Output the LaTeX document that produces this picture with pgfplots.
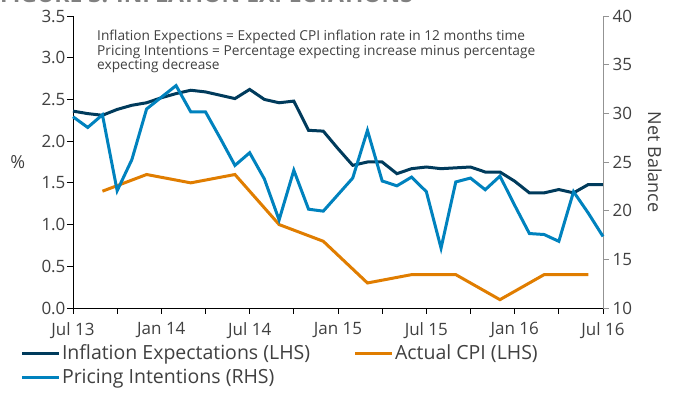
\documentclass[border=0pt]{standalone}
\usepackage{pgfplots}
\pgfplotsset{compat=1.18}
\usepackage{pgfplotstable}
\usepackage{fontspec}
\setmainfont{Open Sans}

\definecolor{navy}{HTML}{003B5C}
\definecolor{cblue}{HTML}{0082BE}
\definecolor{corange}{HTML}{E07D00}
\definecolor{txt}{HTML}{404040}

% months since Jul 13
\pgfplotstableread{
m val
0 2.36
1 2.33
2 2.31
3 2.38
4 2.43
5 2.46
6 2.52
7 2.57
8 2.61
9 2.59
10 2.55
11 2.51
12 2.62
13 2.50
14 2.46
15 2.48
16 2.13
17 2.12
18 1.91
19 1.71
20 1.75
21 1.75
22 1.61
23 1.67
24 1.69
25 1.67
26 1.68
27 1.69
28 1.63
29 1.63
30 1.52
31 1.38
32 1.38
33 1.42
34 1.38
35 1.48
36 1.48
}\inflexp

\pgfplotstableread{
m val
2 1.4
5 1.6
8 1.5
11 1.6
14 1.0
17 0.8
20 0.3
23 0.4
26 0.4
29 0.1
32 0.4
35 0.4
}\cpi

\pgfplotstableread{
m val
0 29.65
1 28.55
2 29.85
3 22.05
4 25.25
5 30.45
6 31.65
7 32.85
8 30.15
9 30.15
10 27.45
11 24.65
12 25.95
13 23.25
14 19.05
15 24.15
16 20.15
17 19.95
18 21.65
19 23.35
20 28.25
21 23.05
22 22.55
23 23.45
24 21.95
25 16.15
26 22.95
27 23.35
28 22.15
29 23.55
30 20.55
31 17.65
32 17.55
33 16.85
34 21.95
35 19.75
36 17.35
}\pricing

\begin{document}
\begin{tikzpicture}
\path[use as bounding box] (-73pt,-93pt) rectangle (601pt,308pt);
\begin{scope}
\clip (-73pt,-93pt) rectangle (601pt,308pt);
\node[anchor=base west, inner sep=0pt, text=gray, font=\bfseries\fontsize{23}{26}\selectfont]
  at (-73pt,305pt) {FIGURE 3: INFLATION EXPECTATIONS};
\end{scope}

\pgfplotsset{
  base/.style={
    scale only axis, width=530pt, height=292pt,
    xmin=0, xmax=36,
    tick align=outside,
    major tick length=6pt,
    ticklabel style={font=\fontsize{17}{19}\selectfont, text=txt},
    /pgf/number format/assume math mode=true,
    axis line style={line width=0.9pt},
    clip=false,
  },
}

\begin{axis}[base,
  axis x line*=bottom, axis y line*=left,
  ymin=0, ymax=3.5,
  ytick={0,0.5,...,3.5},
  yticklabel style={xshift=2pt, /pgf/number format/.cd, fixed, fixed zerofill, precision=1},
  xticklabel style={yshift=-5pt},
  xtick={0,3,...,36},
  xticklabels={Jul 13,,Jan 14,,Jul 14,,Jan 15,,Jul 15,,Jan 16,,Jul 16},
  tick style={black, line width=0.9pt},
  ylabel={\%},
  ylabel style={at={(axis description cs:-0.104,0.5)}, anchor=center, rotate=-90,
    font=\fontsize{18}{20}\selectfont, text=txt},
]
\addplot[navy, line width=3pt] table[x=m, y=val] {\inflexp};
\addplot[corange, line width=3pt] table[x=m, y=val] {\cpi};
\end{axis}

\begin{axis}[base,
  axis x line=none, axis y line*=right,
  ymin=10, ymax=40,
  ytick={10,15,...,40},
  axis line style={gray!85},
  tick style={gray!85, line width=0.9pt},
  ylabel={Net Balance},
  ylabel style={at={(axis description cs:1.098,0.5)}, anchor=center, rotate=180,
    font=\fontsize{18}{20}\selectfont, text=txt},
  legend style={at={(axis description cs:-0.105,-0.112)}, anchor=north west,
    draw=none, fill=none, font=\fontsize{19.5}{22}\selectfont, text=txt,
    legend columns=2, row sep=4pt, nodes={inner xsep=1.5pt, inner ysep=2pt},
    /tikz/every even column/.append style={column sep=42pt}},
  legend cell align=left,
  legend image code/.code={\draw[#1] (0pt,0pt) -- (37pt,0pt);},
]
\addlegendimage{navy, line width=3pt}
\addlegendentry{Inflation Expectations (LHS)}
\addlegendimage{corange, line width=3pt}
\addlegendentry{Actual CPI (LHS)}
\addplot[cblue, line width=3pt] table[x=m, y=val] {\pricing};
\addlegendentry{Pricing Intentions (RHS)}
\end{axis}

\node[anchor=north west, align=left, inner sep=0pt, text=txt, font=\fontsize{13.7}{12.6}\selectfont]
  at (24pt,278pt) {Inflation Expections = Expected CPI inflation rate in 12 months time\\
  Pricing Intentions = Percentage expecting increase minus percentage\\
  expecting decrease};
\end{tikzpicture}
\end{document}
